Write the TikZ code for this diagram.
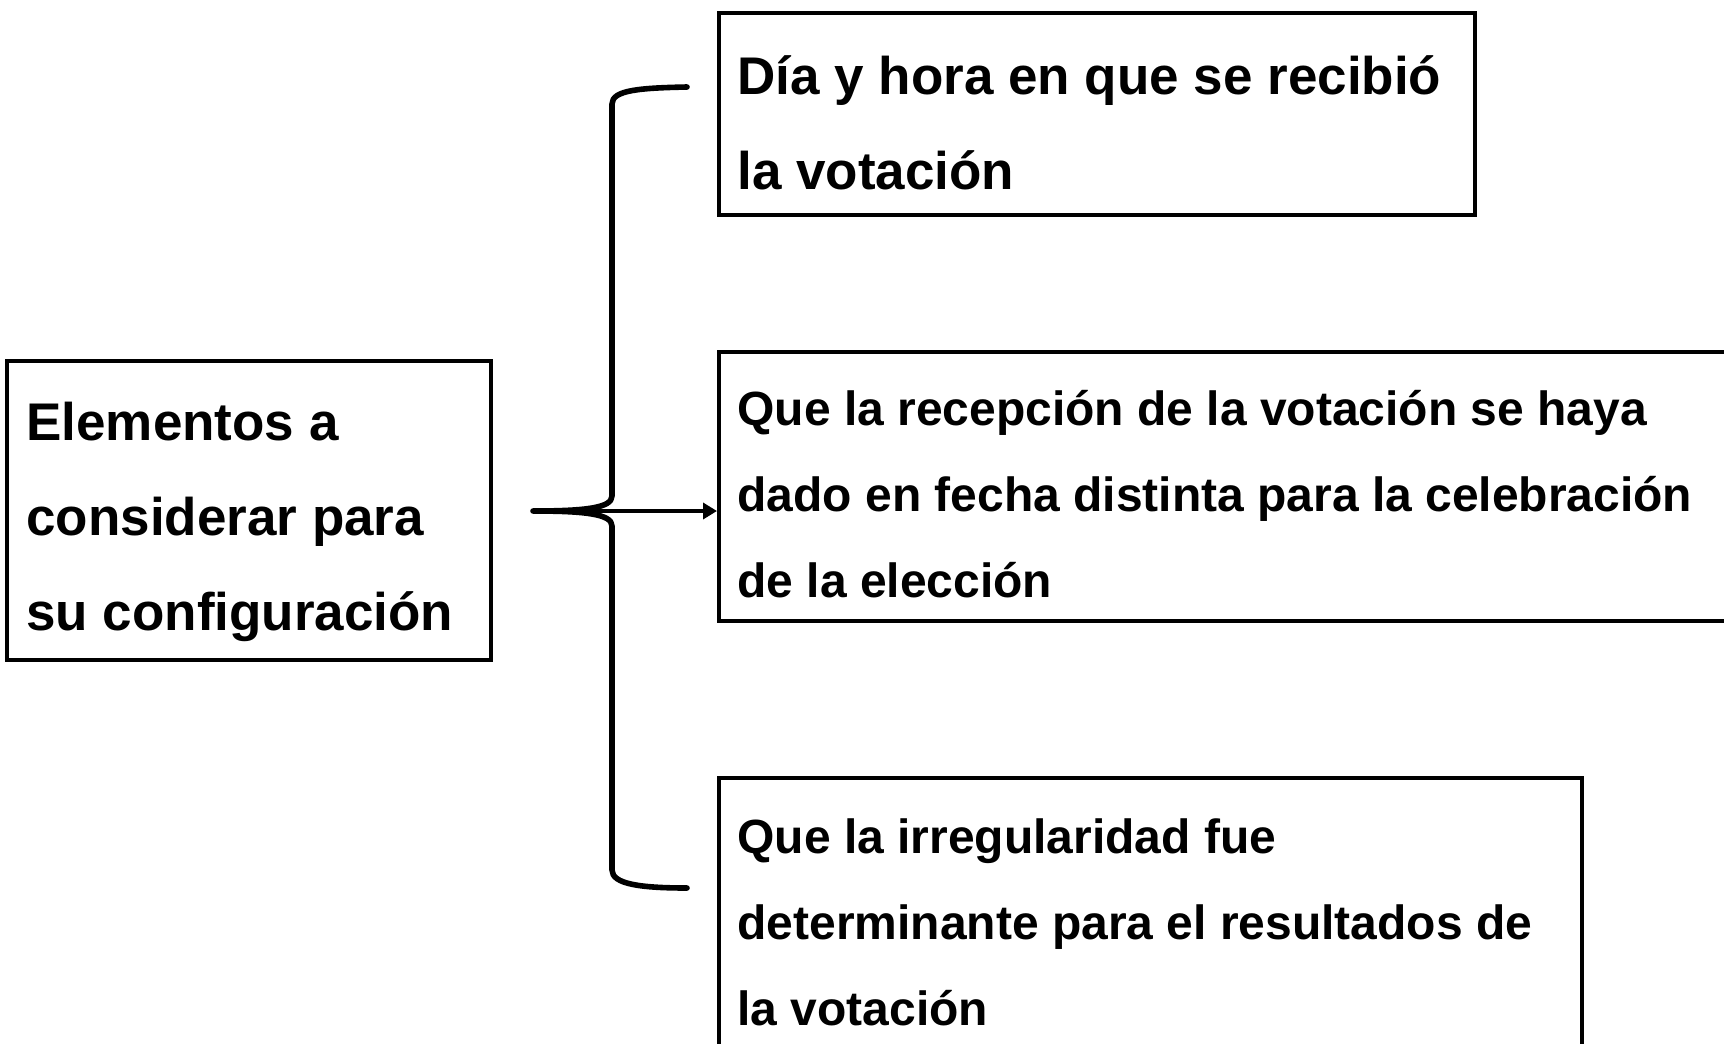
\documentclass[tikz,border=0pt]{standalone}
\usepackage{fontspec}
\setmainfont{Liberation Sans}
\usetikzlibrary{arrows.meta}
\begin{document}
\begin{tikzpicture}[x=0.5pt,y=-0.5pt,
  box/.style={draw, line width=2.2pt, rectangle, inner sep=0pt, anchor=north west},
  bigtxt/.style={anchor=base west, inner sep=0pt, align=left, font=\fontsize{26.5}{47.5}\selectfont\bfseries},
  smalltxt/.style={anchor=base west, inner sep=0pt, align=left, font=\fontsize{24}{43}\selectfont\bfseries},
  bracestyle/.style={line width=2.8pt, line cap=round, line join=round},
  conn/.style={line width=2pt, -{Triangle[length=7pt,width=8pt]}}]
\useasboundingbox (0,0) rectangle (1724,1044);
\clip (0,0) rectangle (1724,1044);
% boxes
\node[box, minimum width=242pt, minimum height=149.5pt] (box0) at (5,359) {};
\node[box, minimum width=378pt, minimum height=101pt] (box1) at (717,11) {};
\node[box, minimum width=511.5pt, minimum height=134.5pt] (box2) at (717,350) {};
\node[box, minimum width=431.5pt, minimum height=134pt] (box3) at (717,776) {};
% texts (anchored at the baseline of their last line)
\node[bigtxt] (t0) at (26,630) {Elementos a\\considerar para\\su configuración};
\node[bigtxt] (t1) at (737,189) {Día y hora en que se recibió\\la votación};
\node[smalltxt] (t2) at (737,597) {Que la recepción de la votación se haya\\dado en fecha distinta para la celebración\\de la elección};
\node[smalltxt] (t3) at (737,1025) {Que la irregularidad fue\\determinante para el resultados de\\la votación};
% brace
\coordinate (tip) at (533,511);
\coordinate (btop) at (687,87);
\coordinate (bbot) at (687,888);
\draw[bracestyle] (btop) .. controls (640,88) and (612,90) .. (612,104)
  -- (612,496) .. controls (612,508) and (585,511) .. (tip)
  .. controls (585,511) and (612,514) .. (612,526)
  -- (612,870) .. controls (612,884) and (640,888) .. (bbot);
% arrow
\draw[conn] (tip) -- (tip -| box2.west);
\end{tikzpicture}
\end{document}
